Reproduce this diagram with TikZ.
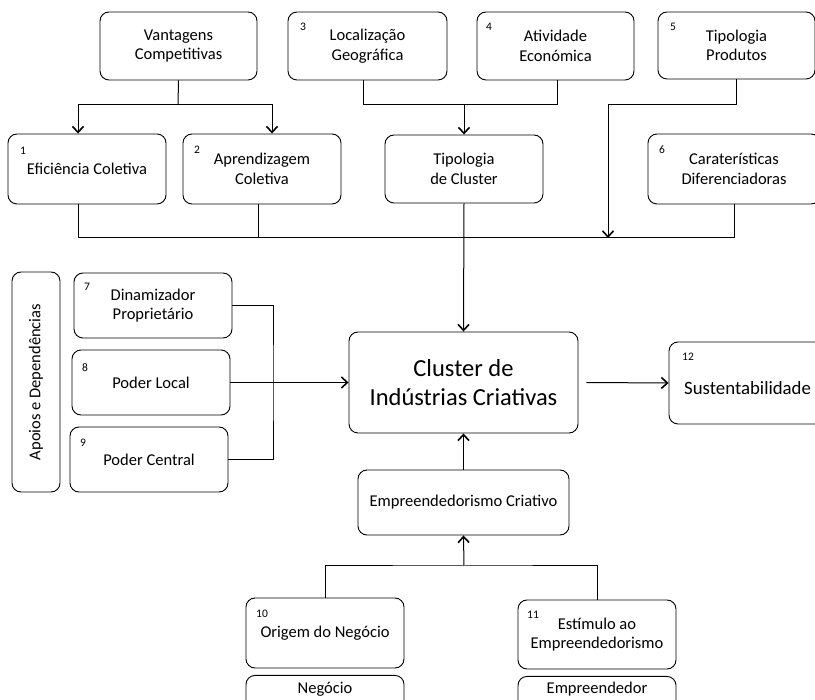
\documentclass[tikz,border=0pt]{standalone}
\usepackage{fontspec}
\setmainfont{Carlito}
\usetikzlibrary{arrows.meta}
\newcommand{\fsnorm}{\fontsize{16.5}{19.5}\selectfont}
\newcommand{\fsbig}{\fontsize{24.5}{29}\selectfont}
\newcommand{\fssus}{\fontsize{18.8}{23}\selectfont}
\newcommand{\fssmall}{\fontsize{11.5}{13}\selectfont}
\tikzset{
  box/.style={draw, rounded corners=9pt, line width=0.9pt, align=center, inner sep=0pt, font=\fsnorm},
  num/.style={font=\fssmall, inner sep=0pt},
  conn/.style={line width=1pt},
  arr/.style={conn, -{Straight Barb[length=6pt,width=11pt,line width=1.6pt]}}
}
\begin{document}
\begin{tikzpicture}[x=1pt,y=-1pt]
\useasboundingbox (0,0) rectangle (815,700);
% top row
\node[box, minimum width=157, minimum height=68] (vc) at (178.5,46) {Vantagens\\Competitivas};
\node[box, minimum width=159, minimum height=68] (lg) at (367.5,46) {Localização\\Geográfica};
\node[box, minimum width=157, minimum height=68] (ae) at (555.5,46) {Atividade\\Económica};
\node[box, minimum width=157, minimum height=67] (tp) at (736.5,45.5) {Tipologia\\Produtos};
\node[num] (n3) at (303,27) {3};
\node[num] (n4) at (489,27) {4};
\node[num] (n5) at (673,27) {5};
% second row
\node[box, minimum width=158, minimum height=70] (ef) at (87,169) {Eficiência Coletiva};
\node[box, minimum width=158, minimum height=70] (ap) at (262,169) {Aprendizagem\\Coletiva};
\node[box, minimum width=158, minimum height=68] (tc) at (464,169) {Tipologia\\de Cluster};
\node[box, minimum width=172, minimum height=70] (cd) at (734,169) {Caraterísticas\\Diferenciadoras};
\node[num] (n1) at (23,151) {1};
\node[num] (n2) at (197,150) {2};
\node[num] (n6) at (662,150) {6};
% left column
\node[box, minimum width=48, minimum height=220] (ad) at (36,382) {};
\node[font=\fsnorm, rotate=90, inner sep=0pt] (adt) at (ad.center) {Apoios e Dependências};
\node[box, minimum width=158, minimum height=65] (dp) at (153,305.5) {Dinamizador\\Proprietário};
\node[box, minimum width=158, minimum height=65] (pl) at (151,382.5) {Poder Local};
\node[box, minimum width=158, minimum height=65] (pc) at (149,459.5) {Poder Central};
\node[num] (n7) at (87,287) {7};
\node[num] (n8) at (85,368) {8};
\node[num] (n9) at (83,443) {9};
% center
\node[box, minimum width=229, minimum height=101, font=\fsbig] (cl) at (463.5,382.5) {Cluster de\\Indústrias Criativas};
\node[box, minimum width=170, minimum height=82] (su) at (754,383) {};
\node[font=\fssus, inner sep=0pt, anchor=west] (sut) at (684,388) {Sustentabilidade};
\node[num, anchor=west] (n12) at (682,357) {12};
\node[box, minimum width=211, minimum height=65] (ec) at (463.5,502.5) {Empreendedorismo Criativo};
% bottom
\node[box, minimum width=158, minimum height=70] (on) at (325,633) {Origem do Negócio};
\node[box, minimum width=158, minimum height=69] (es) at (597,634.5) {Estímulo ao\\Empreendedorismo};
\node[num] (n10) at (262,614) {10};
\node[num] (n11) at (533,615) {11};
\node[box, minimum width=158, minimum height=50, anchor=north] (ng) at (325,675) {};
\node[font=\fsnorm, inner sep=0pt] (ngt) at (325,689) {Negócio};
\node[box, minimum width=158, minimum height=50, anchor=north] (em) at (597,676) {};
\node[font=\fsnorm, inner sep=0pt] (emt) at (597,689) {Empreendedor};
% junction coordinates
\coordinate (j1) at (178,105);
\coordinate (j2) at (464,105);
\coordinate (j3) at (608,105);
\coordinate (j4) at (608,238);
\coordinate (bus) at (734,238);
\coordinate (jr) at (273,383);
\coordinate (j5) at (464,566);
% connectors
\draw[conn] (vc.south) -- (j1);
\draw[arr] (j1) -| ([xshift=-9pt]ef.north);
\draw[arr] (j1) -| ([xshift=10pt]ap.north);
\draw[conn] ([xshift=-4pt]lg.south) |- (j2);
\draw[conn] ([xshift=1.5pt]ae.south) |- (j2);
\draw[arr] (j2) -- (tc.north);
\draw[conn] (tp.south) |- (j3);
\draw[arr] (j3) -- (j4);
\draw[conn] ([xshift=-9pt]ef.south) |- (bus);
\draw[conn] (bus) -- (cd.south);
\draw[conn] ([xshift=-4pt]ap.south) -- ([xshift=-4pt]ap.south |- bus);
\draw[arr] (tc.south) -- (cl.north);
\draw[conn] (dp.east) -| (jr) |- (pc.east);
\draw[arr] (pl.east) -- (cl.west);
\draw[arr] ([xshift=8pt]cl.east) -- (su.west);
\draw[arr] (ec.north) -- (cl.south);
\draw[conn] (on.north) |- (j5) -| (es.north);
\draw[arr] (j5) -- (ec.south);
\end{tikzpicture}
\end{document}
